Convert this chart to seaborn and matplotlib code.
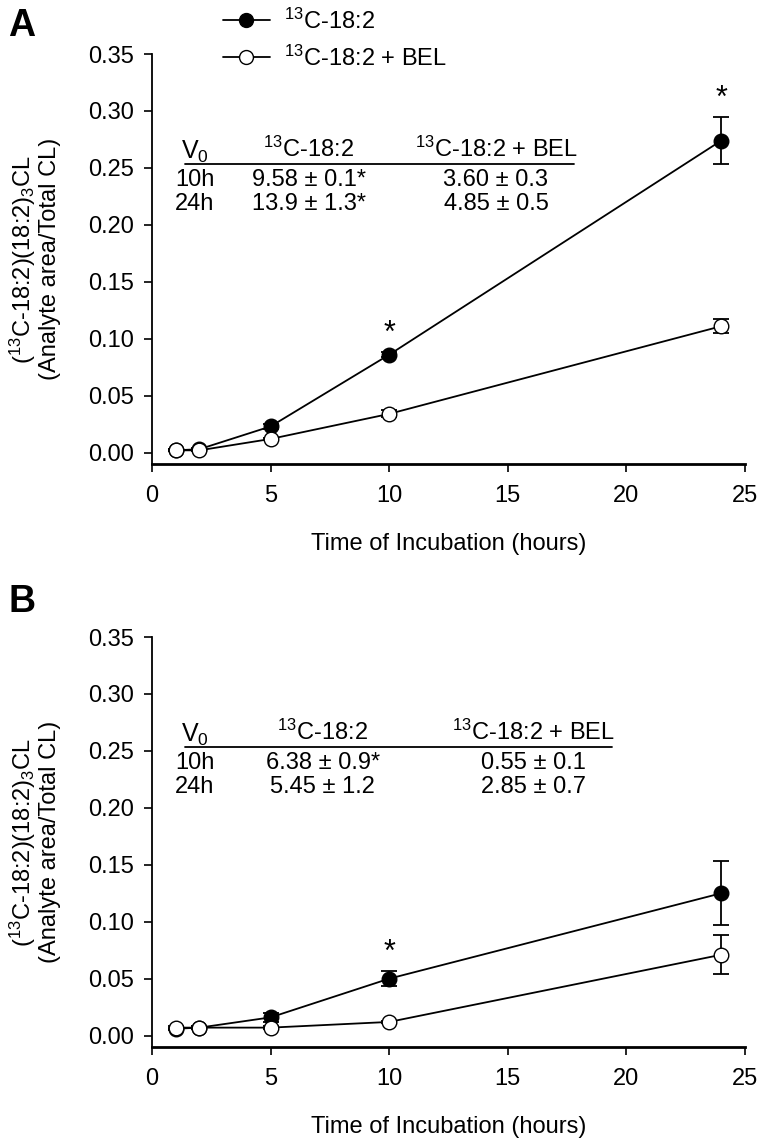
import numpy as np
import pandas as pd
import matplotlib
matplotlib.use("Agg")
import matplotlib.pyplot as plt
import seaborn as sb
from matplotlib.lines import Line2D

hours = [1, 2, 5, 10, 24]

# panel A
a_c13 = [0.002, 0.003, 0.023, 0.086, 0.274]
a_c13_err = [0.001, 0.001, 0.002, 0.002, 0.021]
a_bel = [0.002, 0.002, 0.012, 0.034, 0.111]
a_bel_err = [0.001, 0.001, 0.001, 0.003, 0.006]
a_stars = [10, 24]

# panel B
b_c13 = [0.006, 0.007, 0.016, 0.050, 0.125]
b_c13_err = [0.001, 0.001, 0.004, 0.0065, 0.028]
b_bel = [0.007, 0.007, 0.007, 0.012, 0.071]
b_bel_err = [0.001, 0.001, 0.001, 0.001, 0.017]
b_stars = [10]

table_head = ["V$_0$", "$^{13}$C-18:2", "$^{13}$C-18:2 + BEL"]
a_rows = [["10h", "9.58 ± 0.1*", "3.60 ± 0.3"],
          ["24h", "13.9 ± 1.3*", "4.85 ± 0.5"]]
b_rows = [["10h", "6.38 ± 0.9*", "0.55 ± 0.1"],
          ["24h", "5.45 ± 1.2", "2.85 ± 0.7"]]

sb.set_style("ticks")
plt.rcParams["font.family"] = ["Liberation Sans", "DejaVu Sans"]
plt.rcParams["mathtext.fontset"] = "custom"
plt.rcParams["mathtext.rm"] = "Liberation Sans"
plt.rcParams["mathtext.it"] = "Liberation Sans:italic"
plt.rcParams["mathtext.default"] = "regular"
for k in ["text.color", "axes.labelcolor", "axes.edgecolor",
          "xtick.color", "ytick.color"]:
    plt.rcParams[k] = "black"

fig = plt.figure(figsize=(7.59, 11.42), dpi=100)
ax_a = fig.add_axes([0.2003, 0.5937, 0.7813, 0.359])
ax_b = fig.add_axes([0.2003, 0.0832, 0.7813, 0.359])


def panel(ax, c13, c13_err, bel, bel_err, stars, rows, col_x, line_x):
    df = pd.DataFrame({"hours": hours * 2,
                       "value": c13 + bel,
                       "group": ["c13"] * 5 + ["bel"] * 5})
    sb.lineplot(data=df, x="hours", y="value", hue="group",
                palette={"c13": "black", "bel": "black"}, legend=False,
                estimator=None, linewidth=1.3, ax=ax, zorder=1)
    ax.errorbar(hours, c13, yerr=c13_err, fmt="none", ecolor="black",
                elinewidth=1.3, capsize=6, capthick=1.3, zorder=2)
    ax.errorbar(hours, bel, yerr=bel_err, fmt="none", ecolor="black",
                elinewidth=1.3, capsize=6, capthick=1.3, zorder=2)
    sb.scatterplot(x=hours, y=c13, color="black", edgecolor="black", s=110,
                   linewidth=1, ax=ax, zorder=3)
    sb.scatterplot(x=hours, y=bel, color="white", edgecolor="black", s=110,
                   linewidth=1, ax=ax, zorder=4)
    for h in stars:
        i = hours.index(h)
        ax.text(h, c13[i] + c13_err[i] + 0.016, "*", ha="center", va="center",
                fontsize=22)

    # inset table
    ax.text(col_x[0], 0.264, table_head[0], ha="center", va="center", fontsize=18)
    ax.text(col_x[1], 0.266, table_head[1], ha="center", va="center", fontsize=17)
    ax.text(col_x[2], 0.266, table_head[2], ha="center", va="center", fontsize=17)
    ax.plot(line_x, [0.2535, 0.2535], color="black", lw=1.3)
    for r, yy in zip(rows, [0.239, 0.218]):
        for j, txt in enumerate(r):
            ax.text(col_x[j], yy, txt, ha="center", va="center", fontsize=17)

    ax.set_xlim(0, 25)
    ax.set_ylim(-0.01, 0.35)
    ax.set_xticks([0, 5, 10, 15, 20, 25])
    ax.set_yticks(np.arange(0, 0.351, 0.05))
    ax.yaxis.set_major_formatter(matplotlib.ticker.FormatStrFormatter("%.2f"))
    sb.despine(ax=ax)
    ax.spines["left"].set_linewidth(1.3)
    ax.spines["bottom"].set_linewidth(2)
    ax.tick_params(direction="out", length=6, width=1.2, labelsize=17,
                   colors="black")
    ax.tick_params(axis="x", pad=9)
    ax.tick_params(axis="y", pad=7)
    ax.set_xlabel("Time of Incubation (hours)", fontsize=17, labelpad=19)
    ax.set_ylabel("($^{13}$C-18:2)(18:2)$_3$CL\n(Analyte area/Total CL)",
                  fontsize=17, linespacing=1.1)
    ax.yaxis.set_label_coords(-0.153, 0.5)


panel(ax_a, a_c13, a_c13_err, a_bel, a_bel_err, a_stars, a_rows,
      [1.8, 6.6, 14.5], [1.4, 17.8])
panel(ax_b, b_c13, b_c13_err, b_bel, b_bel_err, b_stars, b_rows,
      [1.8, 7.2, 16.1], [1.4, 19.4])

fig.text(22 / 759, 1 - 26 / 1142, "A", fontsize=27, fontweight="bold",
         ha="center", va="center")
fig.text(22 / 759, 1 - 602 / 1142, "B", fontsize=27, fontweight="bold",
         ha="center", va="center")

handles = [Line2D([], [], color="black", lw=1.3, marker="o", markersize=10,
                  markerfacecolor="black", markeredgecolor="black"),
           Line2D([], [], color="black", lw=1.3, marker="o", markersize=10,
                  markerfacecolor="white", markeredgecolor="black")]
fig.legend(handles, ["$^{13}$C-18:2", "$^{13}$C-18:2 + BEL"],
           loc="upper left", bbox_to_anchor=(206 / 759, 1 + 8 / 1142),
           frameon=False, fontsize=17, handlelength=2.0, handletextpad=0.6,
           labelspacing=0.5, borderpad=0.2)

fig.savefig("out.png", dpi=100)
